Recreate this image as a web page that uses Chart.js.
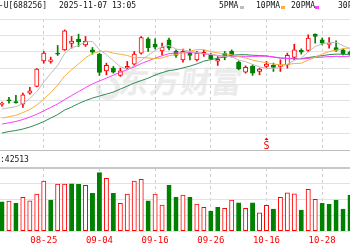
<!DOCTYPE html>
<html><head><meta charset="utf-8">
<script src="https://cdn.jsdelivr.net/npm/chart.js@4/dist/chart.umd.min.js"></script>
<style>
html,body{margin:0;padding:0;background:#fff;overflow:hidden;}
#wrap{position:relative;width:350px;height:250px;overflow:hidden;background:#fff;}
.t{position:absolute;font-family:"DejaVu Sans Mono","Noto Sans CJK SC",monospace;font-size:8px;line-height:10px;color:#111;white-space:nowrap;}
canvas{position:absolute;left:0;}
#wm{position:absolute;left:119px;top:63px;font-family:"Noto Sans CJK SC",sans-serif;font-weight:bold;font-size:30px;line-height:34px;color:#ebebeb;letter-spacing:1px;transform:skewX(-8deg);white-space:nowrap;}
#logo{position:absolute;left:96px;top:76px;width:14px;height:14px;border:5px solid #ececec;border-radius:50%;border-top-color:transparent;transform:rotate(-30deg);}
.mk{position:absolute;top:6px;width:4px;height:3px;}
</style></head>
<body><div id="wrap">
<div id="wm">东方财富</div>
<div id="logo"></div>
<canvas id="price" width="350" height="152" style="top:0;width:350px;height:152px"></canvas>
<canvas id="vol" width="350" height="100" style="top:150px;width:350px;height:100px"></canvas>
<div class="t" style="right:303px;top:1px">寒武纪-U[688256]</div>
<div class="t" style="left:59px;top:1px">2025-11-07 13:05</div>
<div class="t" style="left:219px;top:1px">5PMA</div><div class="mk" style="left:240px;background:#bdbdbd"></div>
<div class="t" style="left:256px;top:1px">10PMA</div><div class="mk" style="left:281px;background:#f5b041"></div>
<div class="t" style="left:291px;top:1px">20PMA</div><div class="mk" style="left:315px;background:#ff3cff"></div>
<div class="t" style="left:338px;top:1px">30PMA</div>
<div class="t" id="vlab" style="left:0px;top:155px"></div>
</div>
<script>
// ---- data ----
const dates = ['08-15','08-18','08-19','08-20','08-21','08-22','08-25','08-26','08-27','08-28','08-29',
 '09-01','09-02','09-03','09-04','09-05','09-08','09-09','09-10','09-11','09-12','09-15','09-16','09-17',
 '09-18','09-19','09-22','09-23','09-24','09-25','09-26','09-29','09-30','10-09','10-10','10-13','10-14',
 '10-15','10-16','10-17','10-20','10-21','10-22','10-23','10-24','10-27','10-28','10-29','10-30','10-31','11-03'];
const openP  = [857,897,885,860,970,1037,1293,1287,1370,1403,1467,1510,1453,1403,1360,1193,1220,1147,1220,1260,1370,1513,1460,1393,1503,1387,1303,1370,1303,1360,1347,1290,1370,1387,1280,1180,1237,1187,1237,1247,1237,1253,1327,1397,1397,1560,1503,1458,1427,1403,1380];
const highP  = [880,927,947,970,1027,1215,1387,1330,1447,1603,1537,1560,1537,1427,1370,1270,1237,1220,1287,1387,1537,1527,1513,1470,1520,1403,1410,1410,1387,1397,1370,1337,1387,1403,1293,1243,1253,1220,1287,1270,1303,1370,1460,1413,1553,1563,1520,1527,1493,1413,1390];
const lowP   = [840,870,870,827,960,1033,1270,1270,1347,1397,1420,1437,1437,1360,1147,1153,1170,1137,1203,1247,1360,1387,1413,1353,1403,1327,1280,1303,1293,1337,1303,1247,1303,1330,1203,1170,1147,1153,1227,1187,1187,1220,1303,1360,1387,1470,1453,1420,1387,1353,1350];
const closeP = [863,893,875,953,993,1210,1370,1303,1360,1593,1492,1482,1488,1380,1177,1247,1180,1193,1237,1360,1527,1425,1430,1432,1420,1347,1387,1347,1370,1377,1313,1307,1327,1347,1213,1227,1170,1210,1260,1227,1253,1347,1403,1380,1520,1537,1470,1465,1397,1363,1360];
const prevClose = 870;
const volume = [74400,76200,70300,85600,77000,94000,127000,78700,119400,119400,120100,118600,116100,95800,148100,133900,95800,70400,94000,127000,131300,77000,94000,66000,116100,85600,91400,85600,68600,60200,50800,60200,57700,78700,71900,57700,71900,46500,65300,55900,85600,97300,94700,53300,105900,80500,70400,67800,78700,55900,91400];
const ma5  = [810,822,835,865,915,985,1080,1166,1247,1367,1424,1446,1483,1487,1404,1355,1294,1235,1207,1243,1299,1348,1396,1435,1447,1411,1403,1387,1374,1366,1359,1343,1339,1334,1301,1284,1257,1233,1216,1219,1224,1259,1298,1322,1381,1437,1462,1474,1478,1446,1411];
const ma10 = [720,733,748,775,805,850,910,975,1050,1141,1204,1263,1324,1367,1386,1389,1370,1359,1347,1324,1327,1321,1316,1321,1345,1355,1376,1391,1405,1406,1385,1373,1363,1354,1334,1322,1300,1286,1275,1260,1254,1258,1266,1269,1300,1331,1361,1386,1400,1414,1424];
const ma20 = [660,672,686,705,730,758,792,826,862,905,945,985,1025,1062,1092,1120,1150,1178,1205,1232,1266,1292,1320,1344,1365,1372,1373,1375,1376,1365,1356,1347,1339,1338,1339,1338,1338,1339,1340,1333,1320,1316,1314,1312,1317,1326,1330,1336,1338,1337,1339];
const ma30 = [570,585,595,610,630,655,685,720,755,800,830,865,895,920,940,960,980,1010,1040,1070,1095,1120,1150,1175,1195,1205,1222,1240,1262,1290,1305,1319,1334,1347,1355,1355,1349,1346,1342,1330,1322,1318,1315,1315,1326,1336,1345,1355,1360,1360,1354];
const tickIndex = [6,14,22,30,38,46];
const signalIndex = 38;
const signalText = 'S';
const volumeLabel = ':42513';
const priceAxis = {min:400, max:1712, step:164};
const volAxis = {min:0, max:160000, step:40000};
const xRange = {min:-0.287, max:50};

// ---- styles ----
const UP = '#ff0000', DOWN = '#008000';
const MA_COLORS = ['#bdbdbd','#f5b041','#ff3cff','#2f8a57'];
document.getElementById('vlab').textContent = volumeLabel;

const idx = dates.map((d,i)=>i);
const isUp = idx.map(i => closeP[i] >= openP[i]);
const volUp = idx.map(i => closeP[i] >= (i ? closeP[i-1] : prevClose));
const pts = arr => arr.map((v,i)=>({x:i, y:v}));

function xScale(showLabels){
  return {
    type:'linear', min:xRange.min, max:xRange.max, offset:false,
    afterBuildTicks: s => { s.ticks = tickIndex.map(v=>({value:v})); },
    grid:{offset:false, color:'#cdcdcd', lineWidth:1, drawTicks:false},
    border:{display:false, dash:[3,3]},
    ticks:{display:showLabels, autoSkip:false, maxRotation:0, minRotation:0, padding:4, color:'#ff0000',
      font:{family:'DejaVu Sans Mono', size:9}, callback: v => dates[v]}
  };
}
const common = {
  responsive:false, animation:false, devicePixelRatio:1, events:[],
  plugins:{legend:{display:false}, tooltip:{enabled:false}}
};

const signalPlugin = {
  id:'signal',
  afterDatasetsDraw(chart){
    const ctx = chart.ctx, x = chart.scales.x.getPixelForValue(signalIndex), b = chart.chartArea.bottom;
    ctx.save();
    ctx.fillStyle = '#ff0000';
    ctx.beginPath(); ctx.moveTo(x, b-12.5); ctx.lineTo(x-2, b-10); ctx.lineTo(x+2, b-10); ctx.closePath(); ctx.fill();
    ctx.font = '10px "DejaVu Sans Mono"'; ctx.textAlign='center'; ctx.textBaseline='alphabetic';
    ctx.fillText(signalText, x, b-1);
    ctx.restore();
  }
};

new Chart(document.getElementById('price'), {
  type:'bar',
  data:{datasets:[
    {type:'line', data:pts(ma5),  borderColor:MA_COLORS[0], borderWidth:1, pointRadius:0, tension:0, order:1},
    {type:'line', data:pts(ma10), borderColor:MA_COLORS[1], borderWidth:1, pointRadius:0, tension:0, order:1},
    {type:'line', data:pts(ma20), borderColor:MA_COLORS[2], borderWidth:1, pointRadius:0, tension:0, order:1},
    {type:'line', data:pts(ma30), borderColor:MA_COLORS[3], borderWidth:1, pointRadius:0, tension:0, order:1},
    {type:'bar', data: idx.map(i=>({x:i, y:[Math.min(openP[i],closeP[i]), Math.max(openP[i],closeP[i])]})),
      backgroundColor: idx.map(i=>isUp[i]?'#ffffff':DOWN), borderColor: idx.map(i=>isUp[i]?UP:DOWN),
      borderWidth:1, borderSkipped:false, barThickness:4.3, minBarLength:1, grouped:false, order:2},
    {type:'bar', data: idx.map(i=>({x:i, y:[lowP[i], highP[i]]})),
      backgroundColor: idx.map(i=>isUp[i]?UP:DOWN), borderWidth:0, barThickness:1, grouped:false, order:3}
  ]},
  options:Object.assign({}, common, {
    layout:{padding:{top:19, bottom:2, left:0, right:0}},
    scales:{
      x: xScale(false),
      y: {type:'linear', min:priceAxis.min, max:priceAxis.max,
        ticks:{display:false, stepSize:priceAxis.step},
        grid:{drawTicks:false, color: c => c.tick && c.tick.value===priceAxis.min ? '#bcbcbc' : '#e2e2e2'},
        border:{display:false}}
    }
  }),
  plugins:[signalPlugin]
});

new Chart(document.getElementById('vol'), {
  type:'bar',
  data:{datasets:[
    {data: idx.map(i=>({x:i, y:volume[i]})),
      backgroundColor: idx.map(i=>volUp[i]?'#ffffff':DOWN), borderColor: idx.map(i=>volUp[i]?UP:DOWN),
      borderWidth:1, borderSkipped:false, barThickness:4.3, grouped:false}
  ]},
  options:Object.assign({}, common, {
    layout:{padding:{top:18, bottom:0, left:0, right:0}},
    scales:{
      x: xScale(true),
      y: {type:'linear', min:volAxis.min, max:volAxis.max,
        ticks:{display:false, stepSize:volAxis.step},
        grid:{drawTicks:false,
          color: c => c.tick && c.tick.value===volAxis.max ? '#c8c8c8' : '#e2e2e2',
          lineWidth: c => c.tick && c.tick.value===volAxis.max ? 2 : 1},
        border:{display:false}}
    }
  })
});
</script>
</body></html>
